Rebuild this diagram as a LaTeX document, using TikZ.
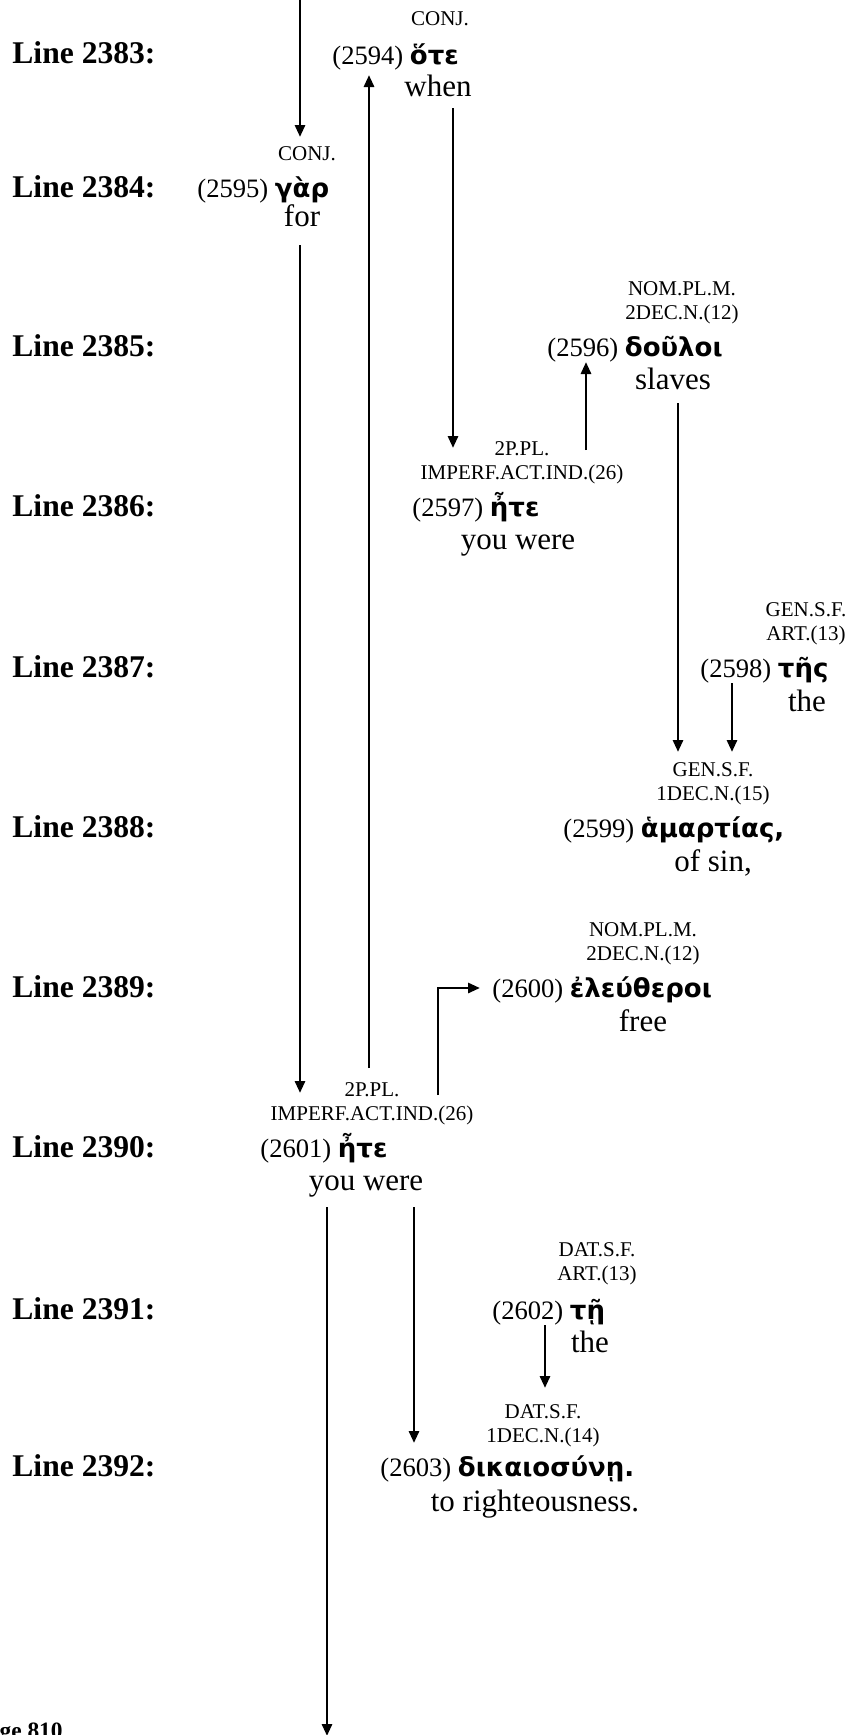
\documentclass[tikz,border=0pt]{standalone}
\usepackage{fontspec}
\setmainfont{Liberation Serif}
\newfontfamily\grk{DejaVu Sans}
\usetikzlibrary{arrows.meta}
\newcommand{\grw}[1]{{\fontsize{13}{15}\selectfont\grk\bfseries #1}}

\begin{document}
\begin{tikzpicture}[x=0.5pt, y=-0.5pt,
    lbl/.style={anchor=base west, inner sep=0pt, font=\fontsize{15.8}{18}\selectfont\bfseries},
    morph/.style={anchor=base, inner sep=0pt, align=center, font=\fontsize{10.5}{12}\selectfont},
    wrd/.style={anchor=base west, inner sep=0pt, font=\fontsize{13.3}{16}\selectfont},
    gls/.style={anchor=base, inner sep=0pt, font=\fontsize{15.5}{18}\selectfont},
    arr/.style={line width=1.4pt, -{Triangle[length=6pt,width=5pt]}}]
    \useasboundingbox (0,0) rectangle (851,1735);
    % line numbers
    \node[lbl] (l2383) at (12, 63) {Line 2383:};
    \node[lbl] (l2384) at (12, 197) {Line 2384:};
    \node[lbl] (l2385) at (12, 356) {Line 2385:};
    \node[lbl] (l2386) at (12, 516) {Line 2386:};
    \node[lbl] (l2387) at (12, 677) {Line 2387:};
    \node[lbl] (l2388) at (12, 837) {Line 2388:};
    \node[lbl] (l2389) at (12, 997) {Line 2389:};
    \node[lbl] (l2390) at (12, 1157) {Line 2390:};
    \node[lbl] (l2391) at (12, 1319) {Line 2391:};
    \node[lbl] (l2392) at (12, 1476) {Line 2392:};
    \node[anchor=base east, inner sep=0pt, font=\fontsize{11.7}{14}\selectfont\bfseries] (page) at (63, 1738) {Page 810};
    % words
    \node[morph] (t2594) at (440, 25) {CONJ.};
    \node[wrd] (w2594) at (332, 64) {(2594) \grw{ὅτε}};
    \node[gls] (g2594) at (438, 96) {when};
    \node[morph] (t2595) at (307, 160) {CONJ.};
    \node[wrd] (w2595) at (197, 197) {(2595) \grw{γὰρ}};
    \node[gls] (g2595) at (302, 226) {for};
    \node[morph] (t2596) at (682, 319) {NOM.PL.M.\\2DEC.N.(12)};
    \node[wrd] (w2596) at (547, 356) {(2596) \grw{δοῦλοι}};
    \node[gls] (g2596) at (673, 389) {slaves};
    \node[morph] (t2597) at (522, 479) {2P.PL.\\IMPERF.ACT.IND.(26)};
    \node[wrd] (w2597) at (412, 516) {(2597) \grw{ἦτε}};
    \node[gls] (g2597) at (518, 549) {you were};
    \node[morph] (t2598) at (806, 640) {GEN.S.F.\\ART.(13)};
    \node[wrd] (w2598) at (700, 677) {(2598) \grw{τῆς}};
    \node[gls] (g2598) at (807, 711) {the};
    \node[morph] (t2599) at (713, 800) {GEN.S.F.\\1DEC.N.(15)};
    \node[wrd] (w2599) at (563, 837) {(2599) \grw{ἁμαρτίας,}};
    \node[gls] (g2599) at (713, 871) {of sin,};
    \node[morph] (t2600) at (643, 960) {NOM.PL.M.\\2DEC.N.(12)};
    \node[wrd] (w2600) at (492, 997) {(2600) \grw{ἐλεύθεροι}};
    \node[gls] (g2600) at (643, 1031) {free};
    \node[morph] (t2601) at (372, 1120) {2P.PL.\\IMPERF.ACT.IND.(26)};
    \node[wrd] (w2601) at (260, 1157) {(2601) \grw{ἦτε}};
    \node[gls] (g2601) at (366, 1190) {you were};
    \node[morph] (t2602) at (597, 1280) {DAT.S.F.\\ART.(13)};
    \node[wrd] (w2602) at (492, 1319) {(2602) \grw{τῇ}};
    \node[gls] (g2602) at (590, 1352) {the};
    \node[morph] (t2603) at (543, 1442) {DAT.S.F.\\1DEC.N.(14)};
    \node[wrd] (w2603) at (380, 1476) {(2603) \grw{δικαιοσύνῃ.}};
    \node[gls] (g2603) at (535, 1511) {to righteousness.};
    % connectors
    \coordinate (in) at (300, -1);
    \coordinate (out) at (327, 1736);
    \draw[arr] (in) -- ([shift={(-7,-23)}]t2595.base);
    \draw[arr] ([shift={(-3,-52)}]t2601.base) -- ([shift={(37,11)}]w2594.base west);
    \draw[arr] ([shift={(15,12)}]g2594.base) -- ([shift={(-69,-31)}]t2597.base);
    \draw[arr] ([shift={(64,-29)}]t2597.base) -- ([shift={(39,6)}]w2596.base west);
    \draw[arr] ([shift={(5,14)}]g2596.base) -- ([shift={(-35,-48)}]t2599.base);
    \draw[arr] ([shift={(32,6)}]w2598.base west) -- ([shift={(19,-48)}]t2599.base);
    \draw[arr] ([shift={(-2,19)}]g2595.base) -- ([shift={(-72,-27)}]t2601.base);
    \draw[arr] ([shift={(66,-25)}]t2601.base) |- ([shift={(-12,-9)}]w2600.base west);
    \draw[arr] ([shift={(-39,17)}]g2601.base) -- (out);
    \draw[arr] ([shift={(48,17)}]g2601.base) -- ([shift={(34,-33)}]w2603.base west);
    \draw[arr] ([shift={(53,6)}]w2602.base west) -- ([shift={(2,-54)}]t2603.base);
  \end{tikzpicture}
\end{document}
